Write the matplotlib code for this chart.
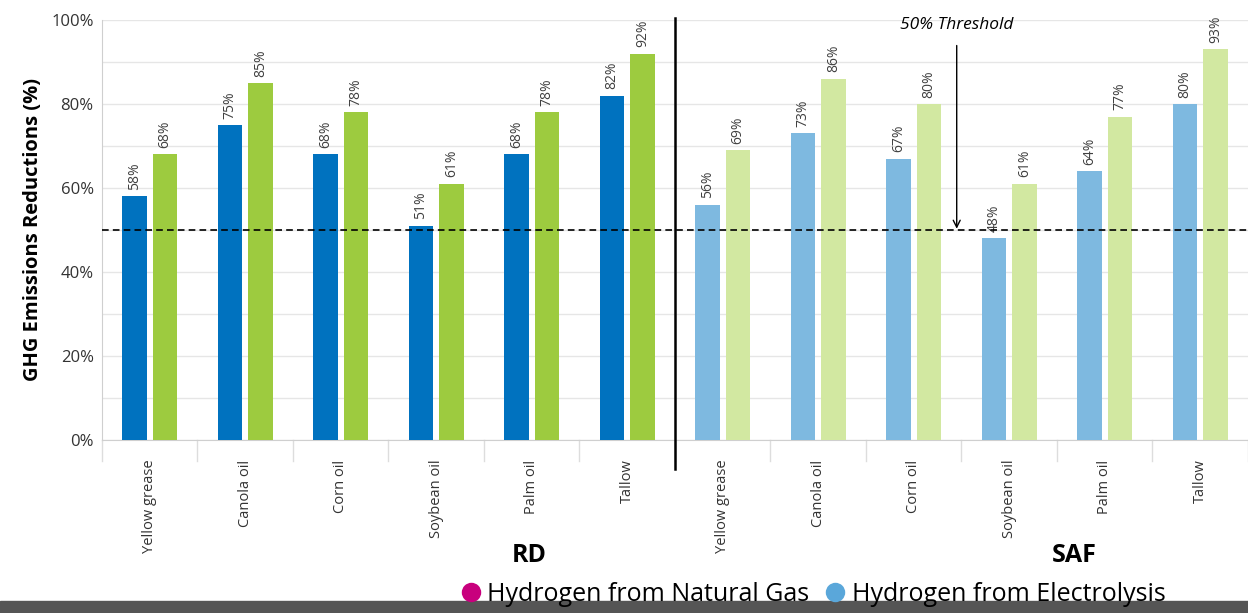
import numpy as np
import matplotlib
matplotlib.use("Agg")
import matplotlib.pyplot as plt
import matplotlib.patches as mpatches
from matplotlib.lines import Line2D

plt.rcParams["font.family"] = ["Open Sans", "DejaVu Sans"]

# ---------------------------------------------------------------
# Daten
# ---------------------------------------------------------------
feedstocks = ["Yellow grease", "Canola oil", "Corn oil", "Soybean oil", "Palm oil", "Tallow"]
groups = ["RD", "SAF"]

rd_natgas = [58, 75, 68, 51, 68, 82]
rd_electro = [68, 85, 78, 61, 78, 92]
saf_natgas = [56, 73, 67, 48, 64, 80]
saf_electro = [69, 86, 80, 61, 77, 93]

legend_labels = ["Hydrogen from Natural Gas", "Hydrogen from Electrolysis"]

# Farben
C_RD_NG = "#0072bf"
C_RD_EL = "#9dcb3f"
C_SAF_NG = "#7eb9e0"
C_SAF_EL = "#d2e8a1"

# ---------------------------------------------------------------
fig = plt.figure(figsize=(12.48, 6.13), dpi=100)
ax = fig.add_axes([0.0817, 0.2822, 0.9183, 0.6852])

n = len(feedstocks)
x = np.arange(2 * n)
ng = rd_natgas + saf_natgas
el = rd_electro + saf_electro
c_ng = [C_RD_NG] * n + [C_SAF_NG] * n
c_el = [C_RD_EL] * n + [C_SAF_EL] * n

w = 0.26
off = 0.16
b1 = ax.bar(x - off, ng, w, color=c_ng, zorder=3)
b2 = ax.bar(x + off, el, w, color=c_el, zorder=3)

# Werte ueber den Balken
for bars, vals in [(b1, ng), (b2, el)]:
    for b, v in zip(bars, vals):
        ax.text(b.get_x() + b.get_width() / 2, v + 1.5, f"{v}%", rotation=90,
                ha="center", va="bottom", fontsize=10, color="#404040")

# Achsen
ax.set_xlim(-0.5, 2 * n - 0.5)
ax.set_ylim(0, 100)
ax.set_yticks(np.arange(0, 101, 20))
ax.set_yticklabels([f"{v}%" for v in range(0, 101, 20)], fontsize=12, color="#333333")
ax.set_yticks(np.arange(0, 101, 10), minor=True)
ax.grid(axis="y", which="both", color="#e6e6e6", lw=1, zorder=0)
ax.tick_params(axis="y", which="both", length=0, pad=6)
ax.set_ylabel("GHG Emissions Reductions (%)", fontsize=14.5, fontweight="bold", labelpad=6)

for s in ["top", "right"]:
    ax.spines[s].set_visible(False)
ax.spines["left"].set_color("#cfcfcf")
ax.spines["bottom"].set_color("#cfcfcf")

# Kategorien unten
ax.set_xticks(x)
ax.set_xticklabels(feedstocks * 2, rotation=90, fontsize=10.5, color="#333333")
ax.tick_params(axis="x", length=0, pad=14)

# Trennstriche zwischen den Kategorien
for xb in np.arange(-0.5, 2 * n, 1.0):
    ax.plot([xb, xb], [0, -5], color="#dddddd", lw=1, clip_on=False, zorder=1)

# Schwarze Trennlinie RD / SAF
ax.plot([n - 0.5, n - 0.5], [-7, 100.5], color="black", lw=1.8, clip_on=False, zorder=4)

# 50%-Schwelle
ax.axhline(50, color="black", lw=1.2, ls=(0, (4, 2.5)), zorder=4)
ax.annotate("50% Threshold", xy=(8.45, 50.3), xytext=(8.45, 98.8),
            ha="center", va="center", fontsize=12.5, style="italic",
            arrowprops=dict(arrowstyle="->", color="black", lw=1,
                            shrinkA=7, shrinkB=0))

# Gruppenbeschriftung
ax.text(3.97, -27.5, groups[0], ha="center", va="center", fontsize=18,
        fontweight="bold", clip_on=False)
ax.text(9.68, -27.5, groups[1], ha="center", va="center", fontsize=18,
        fontweight="bold", clip_on=False)

# Legende
handles = [Line2D([0], [0], marker="o", color="none", markerfacecolor="#c8007d",
                  markeredgecolor="none", markersize=14),
           Line2D([0], [0], marker="o", color="none", markerfacecolor="#5aa7da",
                  markeredgecolor="none", markersize=14)]
fig.legend(handles, legend_labels, loc="center", bbox_to_anchor=(0.65, 0.03),
           ncol=2, frameon=False, fontsize=18, handletextpad=0.1, columnspacing=0.5,
           handlelength=1.1)

# grauer Balken unten
fig.patches.append(mpatches.Rectangle((0, 0), 1, 0.02, transform=fig.transFigure,
                                      color="#555555", zorder=0))

fig.savefig("out.png", dpi=100)
